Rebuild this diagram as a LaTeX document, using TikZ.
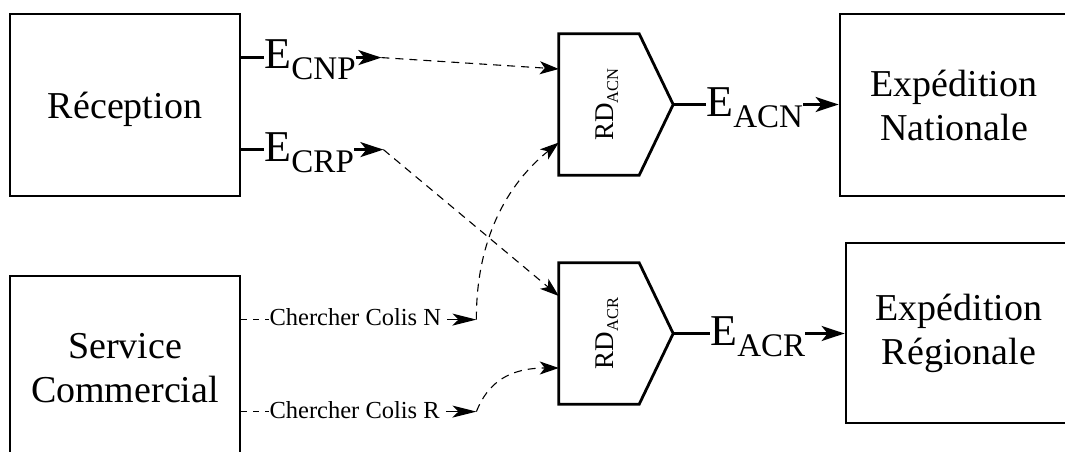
\documentclass[tikz,border=0pt]{standalone}
\usepackage{fontspec}
\setmainfont{Liberation Serif}
\usetikzlibrary{arrows.meta,calc}
\newcommand\mkE[1]{{\fontsize{44}{44}\selectfont E}\raisebox{-11pt}{\fontsize{33}{33}\selectfont #1}}
\newcommand\mkRD[1]{RD\raisebox{-5pt}{\fontsize{16.5}{16.5}\selectfont #1}}
\begin{document}
\begin{tikzpicture}[x=1pt,y=-1pt,
  box/.style={draw, line width=2.8pt, inner sep=0pt, align=center, font=\fontsize{38}{44}\selectfont},
  rdbox/.style={minimum width=80pt, minimum height=141pt, inner sep=0pt},
  rdline/.style={line width=2.8pt, line join=miter},
  rdtext/.style={rotate=90, anchor=base, inner sep=0pt, font=\fontsize{27}{27}\selectfont},
  port/.style={line width=2.4pt},
  elab/.style={anchor=base west, inner sep=0pt},
  clab/.style={anchor=base west, inner sep=0pt, font=\fontsize{24.5}{24.5}\selectfont},
  big/.style={line width=2.4pt, -{Stealth[length=23pt,width=15pt,inset=6pt]}},
  small/.style={line width=1.2pt, -{Stealth[length=24pt,width=12pt,inset=6pt]}},
  stub/.style={line width=1pt, dash pattern=on 6pt off 6pt},
  flow/.style={line width=1.1pt, dash pattern=on 8pt off 6pt, -{Stealth[length=19pt,width=13pt,inset=5pt]}}
]
\useasboundingbox (0,0) rectangle (1065,452);
\clip (0,0) rectangle (1065,452);

% boxes
\node[box, minimum width=230pt, minimum height=182pt, text depth=0pt] (rec) at (125,105) {Réception};
\node[box, minimum width=230pt, minimum height=184pt] (sc) at (125,368) {Service\\Commercial};
\node[box, minimum width=228pt, minimum height=182pt] (en) at (954,105) {Expédition\\Nationale};
\node[box, minimum width=226pt, minimum height=180pt] (er) at (959,333) {Expédition\\Régionale};

% RD shapes
\node[rdbox] (acn) at (599,104.5) {};
\draw[rdline] (acn.north west) -- (acn.north east) -- ($(acn.east)+(34,0)$) -- (acn.south east) -- (acn.south west) -- cycle;
\node[rdtext] (acnt) at (613,104.5) {\mkRD{ACN}};
\node[rdbox] (acr) at (599,333.5) {};
\draw[rdline] (acr.north west) -- (acr.north east) -- ($(acr.east)+(34,0)$) -- (acr.south east) -- (acr.south west) -- cycle;
\node[rdtext] (acrt) at (613,333.5) {\mkRD{ACR}};

% named points
\coordinate (r1) at ($(rec.north east)+(0,45)$);
\coordinate (r2) at ($(rec.north east)+(0,137)$);
\coordinate (s1) at ($(sc.north east)+(0,45)$);
\coordinate (s2) at ($(sc.north east)+(0,137)$);
\coordinate (acnA) at ($(acn.west)+(0,-35.5)$);
\coordinate (acnB) at ($(acn.west)+(0,38)$);
\coordinate (acrA) at ($(acr.west)+(0,-37.5)$);
\coordinate (acrB) at ($(acr.west)+(0,34.5)$);
\coordinate (acntip) at ($(acn.east)+(34,0)$);
\coordinate (acrtip) at ($(acr.east)+(34,0)$);

% Reception outputs
\node[elab] (ecnp) at ($(r1)+(23,11)$) {\mkE{CNP}};
\draw[port] (r1) -- (r1 -| ecnp.west);
\coordinate (t1) at ($(r1)+(140,0)$);
\draw[big] (r1 -| ecnp.east) -- (t1);
\draw[flow] (t1) -- (acnA);

\node[elab] (ecrp) at ($(r2)+(23,11.5)$) {\mkE{CRP}};
\draw[port] (r2) -- (r2 -| ecrp.west);
\coordinate (t2) at ($(r2)+(142,0)$);
\draw[big] (r2 -| ecrp.east) -- (t2);
\draw[flow] (t2) -- (acrA);

% Service Commercial outputs
\node[clab] (ccn) at ($(s1)+(28,5.5)$) {Chercher Colis N};
\draw[stub] (s1) -- (s1 -| ccn.west);
\coordinate (tn) at ($(s1)+(235,0)$);
\draw[small] ($(s1 -| ccn.east)+(6,0)$) -- (tn);
\draw[flow] (tn) .. controls (476,250) and (500,190) .. (acnB);

\node[clab] (ccr) at ($(s2)+(28,6.5)$) {Chercher Colis R};
\draw[stub] (s2) -- (s2 -| ccr.west);
\coordinate (tr) at ($(s2)+(235,0)$);
\draw[small] ($(s2 -| ccr.east)+(6,0)$) -- (tr);
\draw[flow] (tr) .. controls (488,382) and (510,368) .. (acrB);

% RD outputs
\node[elab] (eacn) at ($(acntip)+(33,12)$) {\mkE{ACN}};
\draw[port] (acntip) -- (acntip -| eacn.west);
\draw[big] (acntip -| eacn.east) -- (acntip -| en.west);

\node[elab] (eacr) at ($(acrtip)+(37,12)$) {\mkE{ACR}};
\draw[port] (acrtip) -- (acrtip -| eacr.west);
\draw[big] (acrtip -| eacr.east) -- (acrtip -| er.west);
\end{tikzpicture}
\end{document}
